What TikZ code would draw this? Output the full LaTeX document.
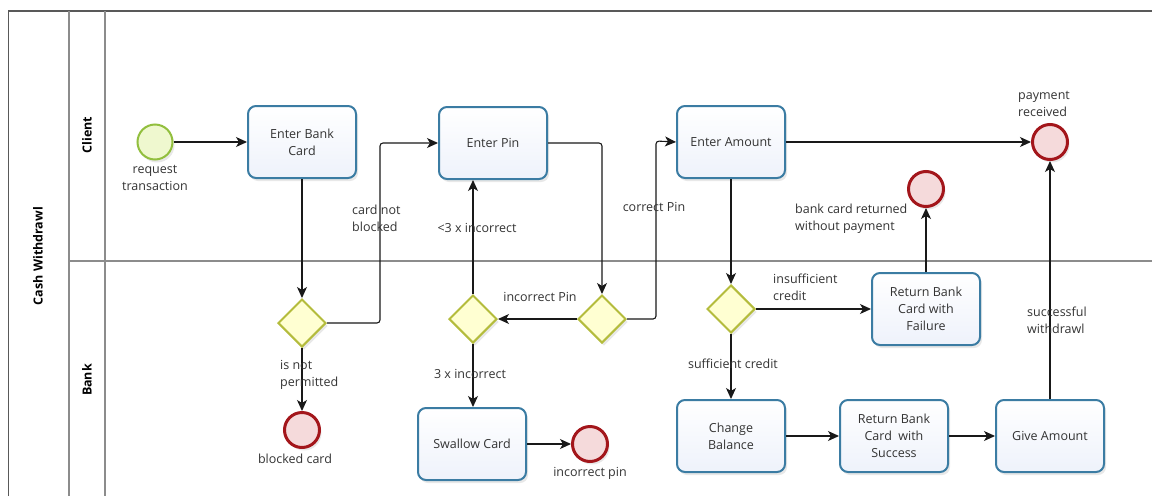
\documentclass[tikz,border=0pt]{standalone}
\usepackage{fontspec}
\setmainfont{Open Sans}
\usetikzlibrary{shapes.geometric,arrows.meta,shadows,calc}
\definecolor{taskline}{HTML}{3B7CA3}
\definecolor{taskfill}{HTML}{EEF2FB}
\definecolor{gwline}{HTML}{B4BC3C}
\definecolor{gwfill}{HTML}{FFFFD2}
\definecolor{endline}{HTML}{A3161B}
\definecolor{endfill}{HTML}{F5DADB}
\definecolor{startline}{HTML}{92BF3E}
\definecolor{startfill}{HTML}{EFF8CF}
\definecolor{txt}{HTML}{333333}
\definecolor{lanegray}{HTML}{8C8C8C}
\tikzset{
  x=1pt,y=-1pt,
  every node/.style={font=\fontsize{12.5}{17}\selectfont,text=txt},
  shad/.style={drop shadow={shadow xshift=2pt,shadow yshift=-3pt,opacity=0.18,fill=gray}},
  task/.style={draw=taskline,line width=2pt,rounded corners=8pt,top color=white,bottom color=taskfill,
    minimum width=108pt,minimum height=72pt,align=center,inner sep=2pt,shad},
  gw/.style={diamond,draw=gwline,line width=2pt,fill=gwfill,minimum size=48pt,inner sep=0pt,shad},
  endev/.style={circle,draw=endline,line width=3pt,fill=endfill,minimum size=35pt,inner sep=0pt,shad},
  startev/.style={circle,draw=startline,line width=2pt,fill=startfill,minimum size=35pt,inner sep=0pt,shad},
  flow/.style={draw=black!90,line width=1.1pt,rounded corners=3pt,-{Stealth[length=11pt,width=10pt,inset=3pt]}},
  lbl/.style={align=left,inner sep=0pt},
  lblc/.style={align=center,inner sep=0pt},
  lanetxt/.style={rotate=90,font=\fontsize{12.5}{15}\selectfont\bfseries,text=black}
}
\begin{document}
\begin{tikzpicture}
\useasboundingbox (0,0) rectangle (1152,496);
% pool and lanes
\draw[line width=1.6pt,draw=black!65] (8.5,496) -- (8.5,11) -- (1152,11);
\draw[line width=1.2pt,draw=lanegray] (69,11) -- (69,496);
\draw[line width=1.2pt,draw=lanegray] (105,11) -- (105,496);
\draw[line width=1.2pt,draw=lanegray] (69,261) -- (1152,261);
\node[lanetxt] (pool) at (38,256) {Cash Withdrawl};
\node[lanetxt] (client) at (87,135) {Client};
\node[lanetxt] (bank) at (87,380) {Bank};

% nodes
\node[startev] (start) at (155,142) {};
\node[task] (ebc) at (302,142) {Enter Bank\\Card};
\node[task] (pin) at (493,143) {Enter Pin};
\node[task] (amt) at (731,142) {Enter Amount};
\node[endev] (paid) at (1050,142) {};
\node[endev] (ret) at (926,189) {};
\node[gw] (g1) at (302,323) {};
\node[endev] (blocked) at (302,430) {};
\node[gw] (g2) at (602,319) {};
\node[gw] (g3) at (473,319) {};
\node[task] (swallow) at (472,444) {Swallow Card};
\node[endev] (incpin) at (590,444) {};
\node[gw] (g4) at (731,309) {};
\node[task] (fail) at (926,309) {Return Bank\\Card with\\Failure};
\node[task] (change) at (731,436) {Change\\Balance};
\node[task] (succ) at (894,436) {Return Bank\\Card\ \ with\\Success};
\node[task] (give) at (1050,436) {Give Amount};

% helper coordinates
\coordinate (c1) at (380,143);
\coordinate (c2) at (656,141);

% flows
\draw[flow] (start) -- (ebc);
\draw[flow] (ebc.south) -- (g1.north);
\draw[flow] (g1.east) -| (c1) -- (pin.west);
\draw[flow] (g1.south) -- (blocked.north);
\draw[flow] (pin.east) -| (g2.north);
\draw[flow] (g2.west) -- (g3.east);
\draw[flow] (g3.north) -- (g3.north |- pin.south);
\draw[flow] (g2.east) -| (c2) -- (amt.west);
\draw[flow] (g3.south) -- (g3.south |- swallow.north);
\draw[flow] (swallow.east) -- (incpin.west);
\draw[flow] (amt.east) -- (paid.west);
\draw[flow] (amt.south) -- (g4.north);
\draw[flow] (g4.east) -- (fail.west);
\draw[flow] (fail.north) -- (ret.south);
\draw[flow] (g4.south) -- (change.north);
\draw[flow] (change.east) -- (succ.west);
\draw[flow] (succ.east) -- (give.west);
\draw[flow] (give.north) -- (paid.south);

% labels
\node[lblc] (lstart) at (155,178) {request\\transaction};
\node[lbl,anchor=west] (lpaid) at (1018,103.5) {payment\\received};
\node[lbl,anchor=west] (lret) at (795,218.5) {bank card returned\\without payment};
\node[lbl,anchor=west] (lcnb) at (352,218.5) {card not\\blocked};
\node[lbl,anchor=west] (linp) at (280,375) {is not\\permitted};
\node[lblc] (lblocked) at (295,459) {blocked card};
\node[lblc] (l3less) at (477,228) {<3 x incorrect};
\node[lblc] (lcorrect) at (654,207) {correct Pin};
\node[lblc] (lincorr) at (540,297) {incorrect Pin};
\node[lblc] (l3x) at (470,374) {3 x incorrect};
\node[lblc] (lincpin) at (590,473) {incorrect pin};
\node[lbl,anchor=west] (linsuf) at (773,287) {insufficient\\credit};
\node[lblc] (lsuf) at (733,364) {sufficient credit};
\node[lbl,anchor=west] (lsucc) at (1027,320.5) {successful\\withdrawl};
\end{tikzpicture}
\end{document}
